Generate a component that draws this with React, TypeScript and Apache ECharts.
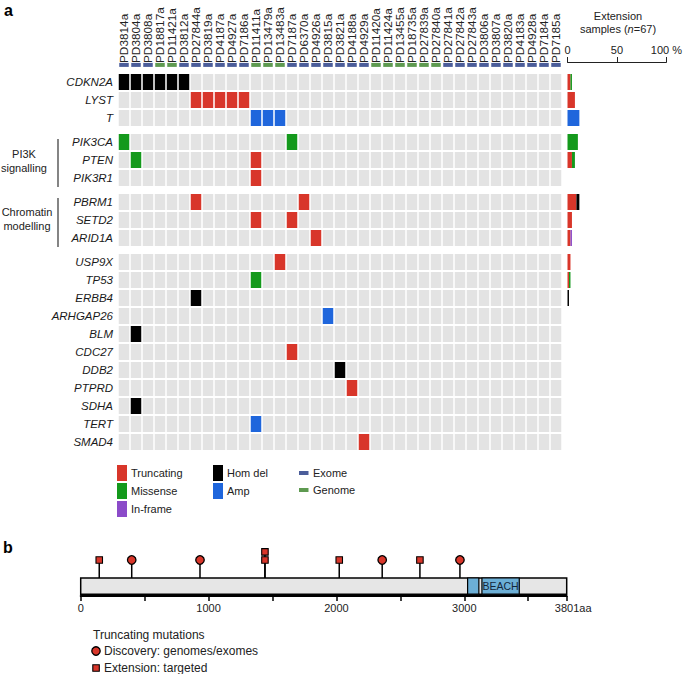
import React, { useEffect, useRef } from "react";
import * as echarts from "echarts";

const FF = "'Liberation Sans', Arial, Helvetica, sans-serif";

const samples = [
  "PD3814a", "PD3804a", "PD3808a", "PD18817a", "PD11421a", "PD3812a", "PD27844a", "PD3819a",
  "PD4187a", "PD4927a", "PD7186a", "PD11411a", "PD13479a", "PD13483a", "PD7187a", "PD6370a",
  "PD4926a", "PD3815a", "PD3821a", "PD4188a", "PD4929a", "PD11420a", "PD11424a", "PD13455a",
  "PD18735a", "PD27839a", "PD27840a", "PD27841a", "PD27842a", "PD27843a", "PD3806a", "PD3807a",
  "PD3820a", "PD4183a", "PD4928a", "PD7184a", "PD7185a",
];
const sampleSeq = [
  "Exome", "Exome", "Exome", "Genome", "Genome", "Exome", "Exome", "Exome",
  "Exome", "Exome", "Exome", "Genome", "Genome", "Genome", "Exome", "Exome",
  "Exome", "Exome", "Exome", "Exome", "Exome", "Genome", "Genome", "Genome",
  "Genome", "Genome", "Genome", "Exome", "Exome", "Exome", "Exome", "Exome",
  "Exome", "Exome", "Exome", "Exome", "Exome",
];

const genes = [
  "CDKN2A", "LYST", "T", "PIK3CA", "PTEN", "PIK3R1", "PBRM1", "SETD2", "ARID1A",
  "USP9X", "TP53", "ERBB4", "ARHGAP26", "BLM", "CDC27", "DDB2", "PTPRD", "SDHA", "TERT", "SMAD4",
];
const geneGroup = [0, 0, 0, 1, 1, 1, 2, 2, 2, 3, 3, 3, 3, 3, 3, 3, 3, 3, 3, 3];

const mutations: [string, string, string][] = [
  ["CDKN2A", "PD3814a", "homdel"], ["CDKN2A", "PD3804a", "homdel"], ["CDKN2A", "PD3808a", "homdel"],
  ["CDKN2A", "PD18817a", "homdel"], ["CDKN2A", "PD11421a", "homdel"], ["CDKN2A", "PD3812a", "homdel"],
  ["LYST", "PD27844a", "trunc"], ["LYST", "PD3819a", "trunc"], ["LYST", "PD4187a", "trunc"],
  ["LYST", "PD4927a", "trunc"], ["LYST", "PD7186a", "trunc"],
  ["T", "PD11411a", "amp"], ["T", "PD13479a", "amp"], ["T", "PD13483a", "amp"],
  ["PIK3CA", "PD3814a", "missense"], ["PIK3CA", "PD7187a", "missense"],
  ["PTEN", "PD3804a", "missense"], ["PTEN", "PD11411a", "trunc"],
  ["PIK3R1", "PD11411a", "trunc"],
  ["PBRM1", "PD27844a", "trunc"], ["PBRM1", "PD6370a", "trunc"],
  ["SETD2", "PD11411a", "trunc"], ["SETD2", "PD7187a", "trunc"],
  ["ARID1A", "PD4926a", "trunc"],
  ["USP9X", "PD13483a", "trunc"],
  ["TP53", "PD11411a", "missense"],
  ["ERBB4", "PD27844a", "homdel"],
  ["ARHGAP26", "PD3815a", "amp"],
  ["BLM", "PD3804a", "homdel"],
  ["CDC27", "PD7187a", "trunc"],
  ["DDB2", "PD3821a", "homdel"],
  ["PTPRD", "PD4188a", "trunc"],
  ["SDHA", "PD3804a", "homdel"],
  ["TERT", "PD11411a", "amp"],
  ["SMAD4", "PD4929a", "trunc"],
];

// Extension cohort, % of 67 samples, per gene (same order as genes)
const extTruncating = [3, 7.5, 0, 0, 4.5, 0, 9, 4.5, 3, 3, 1.5, 0, 0, 0, 0, 0, 0, 0, 0, 0];
const extMissense = [1.5, 0, 0, 10.5, 3, 0, 0, 0, 0, 0, 1.5, 0, 0, 0, 0, 0, 0, 0, 0, 0];
const extInframe = [0, 0, 0, 0, 0, 0, 0, 0, 1.5, 0, 0, 0, 0, 0, 0, 0, 0, 0, 0, 0];
const extHomdel = [0, 0, 0, 0, 0, 0, 3, 0, 0, 0, 0, 1.5, 0, 0, 0, 0, 0, 0, 0, 0];
const extAmp = [0, 0, 12, 0, 0, 0, 0, 0, 0, 0, 0, 0, 0, 0, 0, 0, 0, 0, 0, 0];
const extTicks = [0, 50, 100];

// Panel b: LYST protein
const proteinLength = 3801;
const discoveryAA = [399, 933, 2358, 2966];
const extensionAA = [145, 1441, 1441, 2022, 2653];
const extensionLevel = [1, 1, 2, 1, 1];
const domainStart = [3026, 3138];
const domainEnd = [3114, 3430];
const domainName = ["", "BEACH"];
const tickAA = [0, 500, 1000, 1500, 2000, 2500, 3000, 3500, 3801];
const labelAA = [0, 1000, 2000, 3000, 3801];

const typeKeys = ["trunc", "missense", "inframe", "homdel", "amp"];
const typeColors = ["#d8362a", "#14991c", "#8b4bc9", "#000000", "#1f66dc"];
const cellGray = "#e3e3e3";
const seqColors: Record<string, string> = { Exome: "#4b5d9a", Genome: "#5e9a50" };

const genePos = genes.map((g, i) => i + geneGroup[i] / 3);

export default function App() {
  const ref = useRef<HTMLDivElement>(null);
  useEffect(() => {
    document.body.style.margin = "0";
    if (!ref.current) return;
    const chart = echarts.init(ref.current, undefined, { renderer: "svg" });

    const cellData: number[][] = [];
    genes.forEach((g, i) => {
      samples.forEach((s, j) => {
        const m = mutations.find((mm) => mm[0] === g && mm[1] === s);
        cellData.push([j, genePos[i], m ? typeKeys.indexOf(m[2]) : -1]);
      });
    });
    const dashData = samples.map((s, j) => [j, -0.95, sampleSeq[j] === "Genome" ? 1 : 0]);
    const labelData = genes.map((g, i) => [0, genePos[i]]);

    const extArrays = [extTruncating, extMissense, extInframe, extHomdel, extAmp];
    const barData: number[][] = [];
    genes.forEach((g, i) => {
      let acc = 0;
      extArrays.forEach((arr, t) => {
        if (arr[i] > 0) {
          barData.push([acc, acc + arr[i], genePos[i], t]);
          acc += arr[i];
        }
      });
    });

    const levelY = (lv: number) => 4 + (lv - 1) * 0.9;
    const BAR_LO = 0.2;
    const BAR_HI = 2.0;
    const stemData: number[][] = [
      ...discoveryAA.map((a) => [a, levelY(1)]),
      ...extensionAA.map((a, k) => [a, levelY(extensionLevel[k])]),
    ];

    const option: any = {
      animation: false,
      textStyle: { fontFamily: FF },
      grid: [
        { left: 118, top: 73, width: 444, height: 378 },
        { left: 567.5, top: 73, width: 101.5, height: 378 },
        { left: 80.7, top: 542, width: 486, height: 54 },
      ],
      xAxis: [
        {
          gridIndex: 0, type: "category", data: samples, position: "top",
          axisLine: { show: false }, axisTick: { show: false }, splitLine: { show: false },
          axisLabel: { rotate: 90, margin: 10, fontSize: 11.8, color: "#222", fontFamily: FF, interval: 0 },
        },
        {
          gridIndex: 1, type: "value", min: 0, max: 100, interval: 50, position: "top", offset: 11,
          axisLine: { show: true, onZero: false, lineStyle: { color: "#222", width: 1 } },
          axisTick: { show: true, length: 5, lineStyle: { color: "#222" }, customValues: extTicks },
          axisLabel: { margin: 7, fontSize: 11, color: "#222", fontFamily: FF, customValues: extTicks,
            formatter: (v: number) => (v === 100 ? "100 %" : String(v)) },
          splitLine: { show: false },
        },
        {
          gridIndex: 2, type: "value", min: 0, max: proteinLength,
          axisLine: { show: true, onZero: false, lineStyle: { color: "#000", width: 2 } },
          axisTick: { show: true, length: 5, lineStyle: { color: "#000", width: 1.5 }, customValues: tickAA },
          axisLabel: { margin: 6, fontSize: 11, color: "#222", fontFamily: FF, customValues: labelAA,
            formatter: (v: number) => (v === proteinLength ? "{n|" + v + "aa}" : String(v)),
            rich: { n: { fontSize: 11, color: "#222", fontFamily: FF, padding: [0, 0, 0, 13] } } },
          splitLine: { show: false },
        },
      ],
      yAxis: [
        { gridIndex: 0, type: "value", min: -0.5, max: 20.5, inverse: true, show: false },
        { gridIndex: 1, type: "value", min: -0.5, max: 20.5, inverse: true, show: false },
        { gridIndex: 2, type: "value", min: 0, max: 6, show: false },
      ],
      series: [
        {
          type: "custom", xAxisIndex: 0, yAxisIndex: 0, data: cellData,
          renderItem: (params: any, api: any) => {
            const c = api.coord([api.value(0), api.value(1)]);
            const s = api.size([1, 1]);
            const w = s[0] - 1.5, h = s[1] - 2;
            const t = api.value(2);
            return { type: "rect", shape: { x: c[0] - w / 2, y: c[1] - h / 2, width: w, height: h },
              style: { fill: t < 0 ? cellGray : typeColors[t] } };
          },
        },
        {
          type: "custom", xAxisIndex: 0, yAxisIndex: 0, data: dashData, clip: false,
          renderItem: (params: any, api: any) => {
            const c = api.coord([api.value(0), api.value(1)]);
            const w = 9.5, h = 4;
            return { type: "rect", shape: { x: c[0] - w / 2, y: c[1] - h / 2, width: w, height: h },
              style: { fill: api.value(2) === 1 ? seqColors.Genome : seqColors.Exome } };
          },
        },
        {
          type: "custom", xAxisIndex: 0, yAxisIndex: 0, data: labelData, clip: false,
          renderItem: (params: any, api: any) => {
            const c = api.coord([api.value(0), api.value(1)]);
            const s = api.size([1, 1]);
            return { type: "text", x: c[0] - s[0] / 2 - 5, y: c[1],
              style: { text: genes[params.dataIndex], align: "right", verticalAlign: "middle",
                fontStyle: "italic", fontSize: 11.5, fill: "#1a1a1a", fontFamily: FF } };
          },
        },
        {
          type: "custom", xAxisIndex: 1, yAxisIndex: 1, data: barData,
          renderItem: (params: any, api: any) => {
            const a = api.coord([api.value(0), api.value(2)]);
            const b = api.coord([api.value(1), api.value(2)]);
            const h = api.size([0, 1])[1] - 2;
            return { type: "rect", shape: { x: a[0], y: a[1] - h / 2, width: b[0] - a[0], height: h },
              style: { fill: typeColors[api.value(3)] } };
          },
        },
        {
          type: "custom", xAxisIndex: 2, yAxisIndex: 2, data: [[0, proteinLength, BAR_LO, BAR_HI]], z: 3,
          renderItem: (params: any, api: any) => {
            const a = api.coord([api.value(0), api.value(3)]);
            const b = api.coord([api.value(1), api.value(2)]);
            return { type: "rect", shape: { x: a[0], y: a[1], width: b[0] - a[0], height: b[1] - a[1] },
              style: { fill: "#e6e6e6", stroke: "#000", lineWidth: 1.5 } };
          },
        },
        {
          type: "custom", xAxisIndex: 2, yAxisIndex: 2, z: 4,
          data: domainStart.map((s, k) => [s, domainEnd[k], BAR_LO, BAR_HI]),
          renderItem: (params: any, api: any) => {
            const a = api.coord([api.value(0), api.value(3)]);
            const b = api.coord([api.value(1), api.value(2)]);
            return { type: "group", children: [
              { type: "rect", shape: { x: a[0], y: a[1], width: b[0] - a[0], height: b[1] - a[1] },
                style: { fill: "#6cafd6", stroke: "#000", lineWidth: 1.2 } },
              { type: "text", x: (a[0] + b[0]) / 2, y: (a[1] + b[1]) / 2,
                style: { text: domainName[params.dataIndex], align: "center", verticalAlign: "middle",
                  fontSize: 10.5, fill: "#13263a", fontFamily: FF } },
            ] };
          },
        },
        {
          type: "custom", xAxisIndex: 2, yAxisIndex: 2, data: stemData, z: 2,
          renderItem: (params: any, api: any) => {
            const a = api.coord([api.value(0), BAR_HI]);
            const b = api.coord([api.value(0), api.value(1)]);
            return { type: "line", shape: { x1: a[0], y1: a[1], x2: b[0], y2: b[1] },
              style: { stroke: "#000", lineWidth: 1.5 } };
          },
        },
        {
          type: "scatter", xAxisIndex: 2, yAxisIndex: 2, z: 5, symbol: "circle", symbolSize: 8.5,
          data: discoveryAA.map((a) => [a, levelY(1)]),
          itemStyle: { color: "#d8362a", borderColor: "#000", borderWidth: 1.3, opacity: 1 },
        },
        {
          type: "scatter", xAxisIndex: 2, yAxisIndex: 2, z: 5, symbol: "rect", symbolSize: 6.5,
          data: extensionAA.map((a, k) => [a, levelY(extensionLevel[k])]),
          itemStyle: { color: "#d8362a", borderColor: "#000", borderWidth: 1.1, opacity: 1 },
        },
      ],
      graphic: [
        { type: "text", left: 4, top: 2, style: { text: "a", fontSize: 16, fontWeight: "bold", fill: "#000", fontFamily: FF } },
        { type: "text", left: 3, top: 539, style: { text: "b", fontSize: 16, fontWeight: "bold", fill: "#000", fontFamily: FF } },
        { type: "text", x: 618, y: 16, style: { text: "Extension", align: "center", verticalAlign: "middle", fontSize: 11, fill: "#222", fontFamily: FF } },
        { type: "text", x: 618, y: 29, style: { text: "samples ({i|n}=67)", align: "center", verticalAlign: "middle", fontSize: 11, fill: "#222", fontFamily: FF,
          rich: { i: { fontStyle: "italic", fontSize: 11, fill: "#222", fontFamily: FF } } } },
        { type: "text", x: 24, y: 161, style: { text: "PI3K\nsignalling", align: "center", verticalAlign: "middle", fontSize: 11, lineHeight: 14, fill: "#222", fontFamily: FF } },
        { type: "line", shape: { x1: 58, y1: 139, x2: 58, y2: 187 }, style: { stroke: "#333", lineWidth: 1.2 } },
        { type: "text", x: 27, y: 219, style: { text: "Chromatin\nmodelling", align: "center", verticalAlign: "middle", fontSize: 11, lineHeight: 14, fill: "#222", fontFamily: FF } },
        { type: "line", shape: { x1: 58, y1: 198, x2: 58, y2: 247 }, style: { stroke: "#333", lineWidth: 1.2 } },
        // legend a
        { type: "rect", shape: { x: 117, y: 465, width: 10, height: 16 }, style: { fill: typeColors[0] } },
        { type: "text", x: 131, y: 473, style: { text: "Truncating", verticalAlign: "middle", fontSize: 11, fill: "#222", fontFamily: FF } },
        { type: "rect", shape: { x: 117, y: 483, width: 10, height: 16 }, style: { fill: typeColors[1] } },
        { type: "text", x: 131, y: 491, style: { text: "Missense", verticalAlign: "middle", fontSize: 11, fill: "#222", fontFamily: FF } },
        { type: "rect", shape: { x: 117, y: 501, width: 10, height: 16 }, style: { fill: typeColors[2] } },
        { type: "text", x: 131, y: 509, style: { text: "In-frame", verticalAlign: "middle", fontSize: 11, fill: "#222", fontFamily: FF } },
        { type: "rect", shape: { x: 213, y: 465, width: 10, height: 16 }, style: { fill: typeColors[3] } },
        { type: "text", x: 227, y: 473, style: { text: "Hom del", verticalAlign: "middle", fontSize: 11, fill: "#222", fontFamily: FF } },
        { type: "rect", shape: { x: 213, y: 483, width: 10, height: 16 }, style: { fill: typeColors[4] } },
        { type: "text", x: 227, y: 491, style: { text: "Amp", verticalAlign: "middle", fontSize: 11, fill: "#222", fontFamily: FF } },
        { type: "rect", shape: { x: 299, y: 471, width: 9.5, height: 4 }, style: { fill: seqColors.Exome } },
        { type: "text", x: 313, y: 473, style: { text: "Exome", verticalAlign: "middle", fontSize: 11, fill: "#222", fontFamily: FF } },
        { type: "rect", shape: { x: 299, y: 488, width: 9.5, height: 4 }, style: { fill: seqColors.Genome } },
        { type: "text", x: 313, y: 490, style: { text: "Genome", verticalAlign: "middle", fontSize: 11, fill: "#222", fontFamily: FF } },
        // legend b
        { type: "text", x: 93, y: 635, style: { text: "Truncating mutations", verticalAlign: "middle", fontSize: 12, fill: "#222", fontFamily: FF } },
        { type: "circle", shape: { cx: 96, cy: 651, r: 4.2 }, style: { fill: "#d8362a", stroke: "#000", lineWidth: 1.3 } },
        { type: "text", x: 104, y: 651, style: { text: "Discovery: genomes/exomes", verticalAlign: "middle", fontSize: 12, fill: "#222", fontFamily: FF } },
        { type: "rect", shape: { x: 92.8, y: 664.8, width: 6.5, height: 6.5 }, style: { fill: "#d8362a", stroke: "#000", lineWidth: 1.1 } },
        { type: "text", x: 104, y: 668, style: { text: "Extension: targeted", verticalAlign: "middle", fontSize: 12, fill: "#222", fontFamily: FF } },
      ],
    };
    chart.setOption(option);
    return () => chart.dispose();
  }, []);
  return <div ref={ref} style={{ width: 685, height: 674, position: "absolute", left: 0, top: 0 }} />;
}
